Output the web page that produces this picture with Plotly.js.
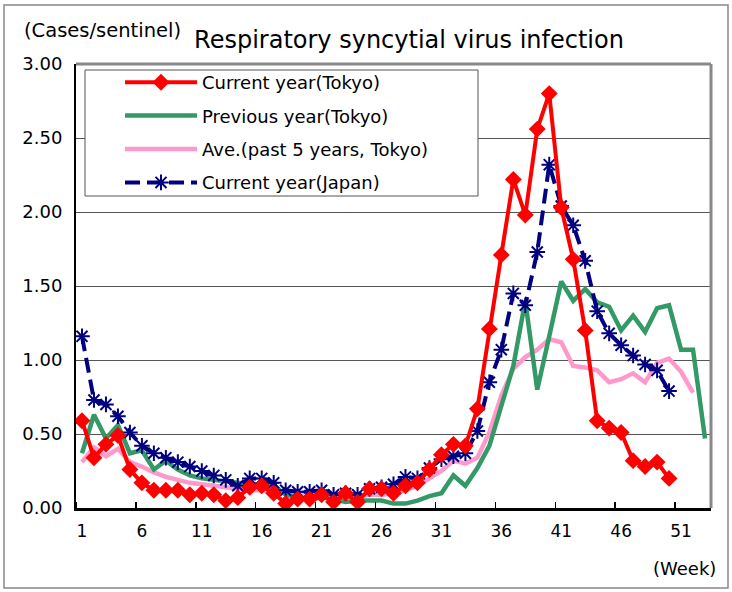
<!DOCTYPE html>
<html><head><meta charset="utf-8">
<script src="https://cdn.plot.ly/plotly-3.0.1.min.js"></script>
<style>html,body{margin:0;padding:0;background:#fff;} #chart{width:732px;height:592px;}</style>
</head><body><div id="chart"></div>
<script>
const weeks = [1,2,3,4,5,6,7,8,9,10,11,12,13,14,15,16,17,18,19,20,21,22,23,24,25,26,27,28,29,30,31,32,33,34,35,36,37,38,39,40,41,42,43,44,45,46,47,48,49,50,51,52,53];
const xTickVals = [1,6,11,16,21,26,31,36,41,46,51];
const xTickText = ["1","6","11","16","21","26","31","36","41","46","51"];

const currentTokyo = [0.59,0.34,0.43,0.49,0.26,0.17,0.12,0.12,0.12,0.09,0.10,0.09,0.05,0.07,0.14,0.15,0.10,0.03,0.06,0.06,0.09,0.04,0.10,0.04,0.13,0.13,0.10,0.15,0.17,0.26,0.36,0.43,0.42,0.67,1.21,1.71,2.22,1.98,2.56,2.80,2.03,1.68,1.20,0.59,0.54,0.51,0.32,0.28,0.31,0.20];
const previousTokyo = [0.37,0.63,0.47,0.56,0.37,0.39,0.26,0.32,0.26,0.22,0.20,0.19,0.18,0.17,0.16,0.16,0.15,0.09,0.07,0.06,0.07,0.06,0.04,0.05,0.05,0.05,0.03,0.03,0.05,0.08,0.10,0.22,0.15,0.27,0.42,0.68,0.96,1.40,0.80,1.16,1.53,1.40,1.48,1.39,1.36,1.20,1.30,1.19,1.35,1.37,1.07,1.07,0.47];
const avgPast5 = [0.31,0.41,0.35,0.40,0.31,0.28,0.24,0.21,0.19,0.17,0.16,0.15,0.14,0.13,0.12,0.12,0.11,0.10,0.09,0.09,0.08,0.08,0.08,0.08,0.09,0.09,0.10,0.12,0.15,0.20,0.25,0.32,0.30,0.34,0.51,0.76,0.94,1.02,1.07,1.14,1.12,0.96,0.95,0.93,0.85,0.87,0.91,0.85,0.98,1.01,0.92,0.78];
const currentJapan = [1.16,0.73,0.70,0.62,0.51,0.42,0.37,0.34,0.31,0.28,0.25,0.22,0.19,0.15,0.20,0.20,0.17,0.12,0.11,0.11,0.12,0.09,0.10,0.09,0.13,0.14,0.16,0.21,0.20,0.27,0.33,0.35,0.37,0.52,0.85,1.07,1.45,1.37,1.73,2.32,2.04,1.91,1.67,1.33,1.18,1.10,1.03,0.97,0.93,0.79];

const FONT = "DejaVu Sans, Verdana, sans-serif";
const W = 732, H = 592;
const M = {l:76, r:21, t:64, b:84};
const pw = W - M.l - M.r, ph = H - M.t - M.b;
const px = v => (v - M.l) / pw;
const py = v => 1 - (v - M.t) / ph;

const traces = [
  {x: weeks.slice(0, avgPast5.length), y: avgPast5, name: "Ave.(past 5 years, Tokyo)", mode: "lines",
   line: {color: "#FF99CC", width: 4.5}, legendrank: 3, legendgroup: "c"},
  {x: weeks.slice(0, previousTokyo.length), y: previousTokyo, name: "Previous year(Tokyo)", mode: "lines",
   line: {color: "#339966", width: 4.5}, legendrank: 2, legendgroup: "b"},
  {x: weeks.slice(0, currentJapan.length), y: currentJapan, name: "Current year(Japan)", mode: "lines+markers",
   line: {color: "#000080", width: 4, dash: "15px,7px"},
   marker: {symbol: "asterisk-open", size: 13, color: "#000080", line: {color: "#000080", width: 2}}, legendrank: 4, legendgroup: "d"},
  {x: weeks.slice(0, currentTokyo.length), y: currentTokyo, name: "Current year(Tokyo)", mode: "lines+markers",
   line: {color: "#FF0000", width: 4},
   marker: {symbol: "diamond", size: 13, color: "#FF0000"}, legendrank: 1, legendgroup: "a"}
];

const layout = {
  width: W, height: H,
  margin: M,
  paper_bgcolor: "#fff", plot_bgcolor: "#fff",
  font: {family: FONT, color: "#000"},
  showlegend: true,
  title: {text: "Respiratory syncytial virus infection", x: 409 / W, xanchor: "center",
          y: 1 - 40 / H, yanchor: "middle", font: {size: 24, family: FONT, color: "#000"}},
  xaxis: {
    range: [0.5, 53.5], tickmode: "array", tickvals: xTickVals, ticktext: xTickText,
    ticks: "", showgrid: false, zeroline: false,
    showline: true, linecolor: "#000", linewidth: 2.5,
    tickfont: {size: 17, family: FONT, color: "#000"}, ticklabelstandoff: 6,
    minor: {tick0: 0.5, dtick: 5, ticks: "inside", ticklen: 6, tickcolor: "#000", tickwidth: 1.5, showgrid: false}
  },
  yaxis: {
    range: [0, 3], dtick: 0.5, tick0: 0, tickformat: ".2f",
    ticks: "", showgrid: true, gridcolor: "#555", gridwidth: 1, zeroline: false,
    showline: true, linecolor: "#000", linewidth: 2,
    tickfont: {size: 18, family: FONT, color: "#000"}, ticklabelstandoff: 8
  },
  legend: {
    x: px(120), y: py(64), xanchor: "left", yanchor: "top",
    bgcolor: "rgba(0,0,0,0)", borderwidth: 0, traceorder: "grouped",
    font: {size: 18, family: FONT, color: "#000"}, itemwidth: 72, tracegroupgap: 7
  },
  shapes: [
    {type: "rect", xref: "paper", yref: "paper", x0: px(4), x1: px(728), y0: py(588), y1: py(5),
     line: {color: "#888", width: 1.5}, layer: "below"},
    {type: "line", xref: "paper", yref: "paper", x0: 0, x1: 1, y0: 1, y1: 1, line: {color: "#888", width: 3}, layer: "above"},
    {type: "line", xref: "paper", yref: "paper", x0: 1, x1: 1, y0: 0, y1: 1, line: {color: "#888", width: 3}, layer: "above"},
    {type: "rect", xref: "paper", yref: "paper", x0: px(85), x1: px(478), y0: py(196), y1: py(70),
     line: {color: "#555", width: 1}, fillcolor: "#fff", layer: "above"}
  ],
  annotations: [
    {text: "(Cases/sentinel)", xref: "paper", yref: "paper", x: px(102), y: py(31), xanchor: "center", yanchor: "middle",
     showarrow: false, font: {size: 19.5, family: FONT, color: "#000"}},
    {text: "(Week)", xref: "paper", yref: "paper", x: px(684), y: py(568), xanchor: "center", yanchor: "middle",
     showarrow: false, font: {size: 18, family: FONT, color: "#000"}}
  ]
};

Plotly.newPlot("chart", traces, layout, {displayModeBar: false, staticPlot: true});
</script>
</body></html>
